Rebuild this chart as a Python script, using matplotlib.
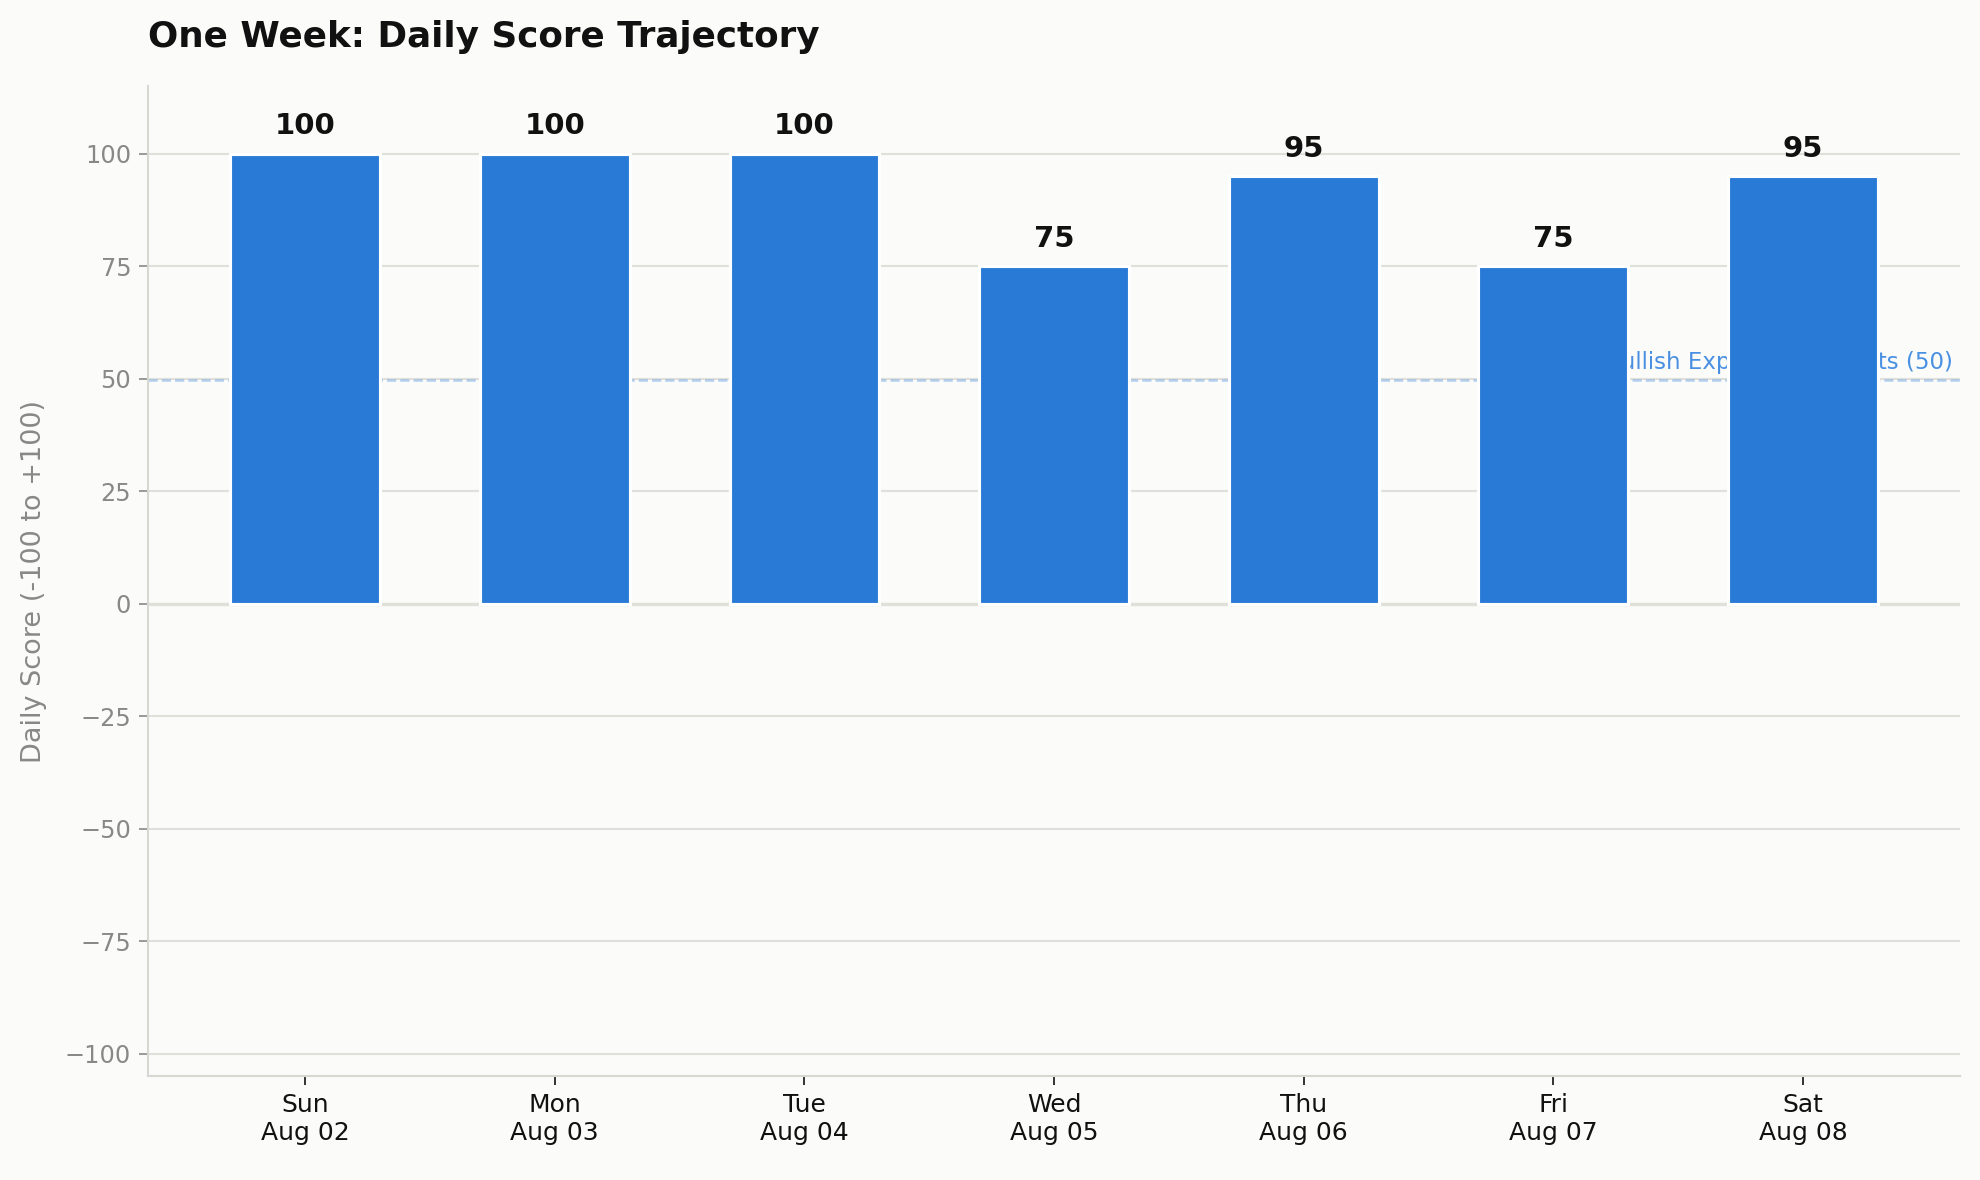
import matplotlib.pyplot as plt
import numpy as np

days = ['Sun', 'Mon', 'Tue', 'Wed', 'Thu', 'Fri', 'Sat']
dates = ['Aug 02', 'Aug 03', 'Aug 04', 'Aug 05', 'Aug 06', 'Aug 07', 'Aug 08']
scores = [100, 100, 100, 75, 95, 75, 95]
threshold = 50
threshold_label = 'Bullish Expectation Starts (50)'
yticks = [-100, -75, -50, -25, 0, 25, 50, 75, 100]

bg = '#fbfbf9'
bar_color = '#2979d6'
grid_color = '#e0e0da'
gray = '#888888'

fig, ax = plt.subplots(figsize=(13.2, 7.8667), dpi=150)
fig.patch.set_facecolor(bg)
ax.set_facecolor(bg)
fig.subplots_adjust(left=0.0747, right=0.99, top=0.927, bottom=0.088)

x = np.arange(len(scores))

# reference lines (under the bars)
ax.axhline(0, color=grid_color, lw=1.6, zorder=1)
ax.axhline(threshold - 0.3, color='#4a90e2', ls='--', lw=1.2, alpha=0.4, zorder=1)
ax.text(len(scores) - 0.4, threshold + 1, threshold_label, ha='right', va='bottom',
        fontsize=11, color='#4a90e2', zorder=1)

ax.bar(x, scores, width=0.6, color=bar_color, edgecolor='white', linewidth=1.5, zorder=2)
for xi, v in zip(x, scores):
    ax.text(xi, v + 3, str(v), ha='center', va='bottom', fontsize=14,
            fontweight='bold', color='#111111', zorder=3)

ax.set_ylim(-105, 115)
ax.set_yticks(yticks)
ax.set_xticks(x)
ax.set_xticklabels([d + '\n' + dt for d, dt in zip(days, dates)], fontsize=12)

ax.yaxis.grid(True, color=grid_color, lw=1)
ax.set_axisbelow(True)

ax.tick_params(axis='y', colors=gray, labelsize=11.5, length=4.5)
ax.tick_params(axis='x', colors='#111111', length=4.5)

for s in ['top', 'right']:
    ax.spines[s].set_visible(False)
for s in ['left', 'bottom']:
    ax.spines[s].set_color('#d8d8d3')
    ax.spines[s].set_linewidth(1)

ax.set_ylabel('Daily Score (-100 to +100)', color=gray, fontsize=13, labelpad=8.5)
ax.set_title('One Week: Daily Score Trajectory', loc='left', fontsize=17.2,
             fontweight='bold', color='#111111', pad=19)

fig.savefig('out.png', dpi=150, facecolor=bg)
